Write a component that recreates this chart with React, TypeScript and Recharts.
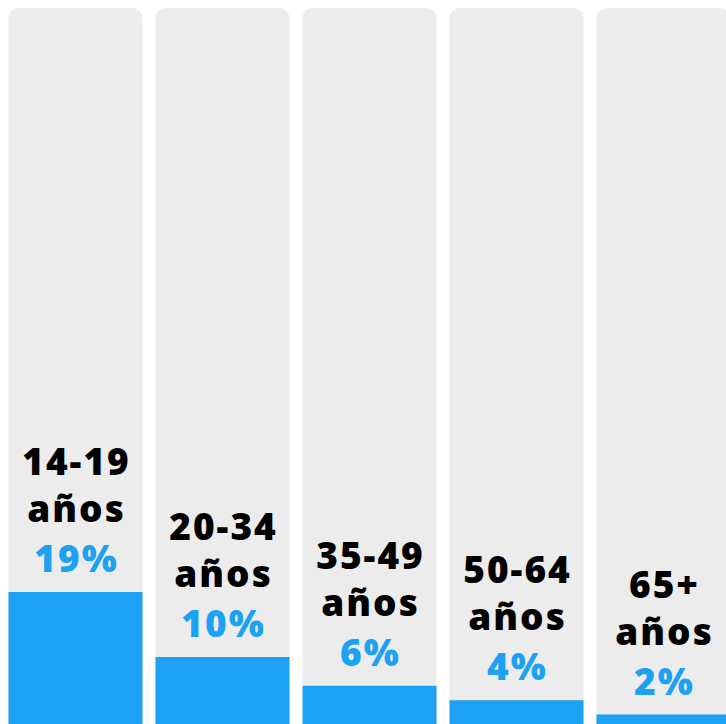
import { BarChart, Bar, XAxis, YAxis, LabelList } from 'recharts'

const ranges = ['14-19', '20-34', '35-49', '50-64', '65+']
const unit = 'años'
const shares = [19, 10, 6, 4, 2]

const data = ranges.map((r, i) => ({ range: r, share: shares[i] }))

const BLUE = '#1da1f2'
const FONT = '"Noto Sans", sans-serif'

function GroupLabel(props: any) {
  const { x, y, width, index } = props
  const cx = x + width / 2 + 1
  const base = y - 20
  return (
    <g fontFamily={FONT} fontWeight={900} fontSize={37} letterSpacing={2} textAnchor="middle">
      <text x={cx} y={base - 97} fill="#000">{ranges[index]}</text>
      <text x={cx} y={base - 50} fill="#000">{unit}</text>
      <text x={cx} y={base} fill={BLUE}>{`${shares[index]}%`}</text>
    </g>
  )
}

export default function App() {
  return (
    <div style={{ position: 'absolute', left: 0, top: 0, width: 726, height: 724, overflow: 'hidden', background: '#fff' }}>
      <div style={{ position: 'absolute', left: 1.5, top: 8 }}>
        <BarChart width={735} height={721} data={data} barCategoryGap={6.5} margin={{ top: 0, right: 0, bottom: 0, left: 0 }}>
          <XAxis dataKey="range" hide />
          <YAxis hide domain={[0, 100]} />
          <Bar
            dataKey="share"
            fill={BLUE}
            isAnimationActive={false}
            background={{ fill: '#ececec', radius: [10, 10, 0, 0] } as any}
          >
            <LabelList dataKey="share" content={<GroupLabel />} />
          </Bar>
        </BarChart>
      </div>
    </div>
  )
}
